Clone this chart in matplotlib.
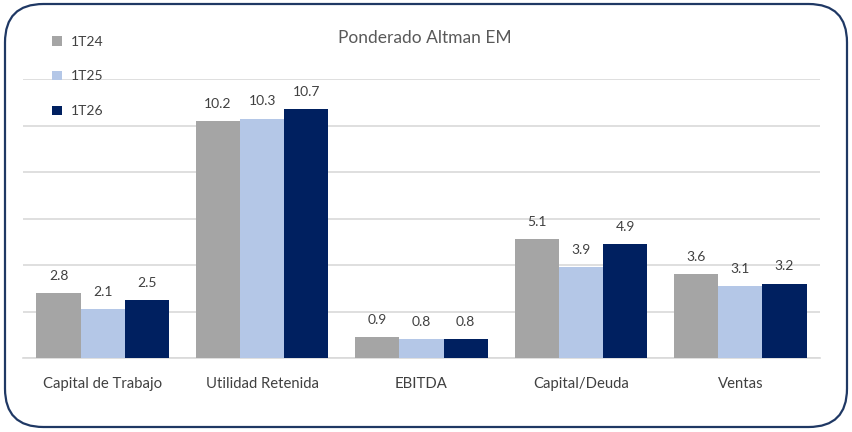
import numpy as np
import matplotlib.pyplot as plt
from matplotlib.patches import FancyBboxPatch

categories = ['Capital de Trabajo', 'Utilidad Retenida', 'EBITDA', 'Capital/Deuda', 'Ventas']
series_names = ['1T24', '1T25', '1T26']
v_1t24 = [2.8, 10.2, 0.9, 5.1, 3.6]
v_1t25 = [2.1, 10.3, 0.8, 3.9, 3.1]
v_1t26 = [2.5, 10.7, 0.8, 4.9, 3.2]
colors = ['#A5A5A5', '#B4C7E7', '#002060']

plt.rcParams['font.family'] = ['Lato', 'DejaVu Sans']

W, H = 853, 432
fig = plt.figure(figsize=(W / 100, H / 100), dpi=100)

# plot area in pixels: left 23, right 820, top 79, bottom 358
ax = fig.add_axes([23 / W, 1 - 358 / H, (820 - 23) / W, (358 - 79) / H])

x = np.arange(len(categories))
bw = 0.277
for i, (vals, c) in enumerate(zip([v_1t24, v_1t25, v_1t26], colors)):
    pos = x + (i - 1) * bw
    ax.bar(pos, vals, width=bw, color=c, label=series_names[i], zorder=3)
    for p, v in zip(pos, vals):
        ax.annotate(f'{v:.1f}', (p, v), xytext=(0, 8), textcoords='offset points',
                    ha='center', va='bottom', fontsize=10, color='#404040',
                    annotation_clip=False)

ax.set_xlim(-0.5, len(categories) - 0.5)
ax.set_ylim(0, 12)
ax.set_yticks(np.arange(0, 13, 2))
ax.yaxis.grid(True, color='#D9D9D9', linewidth=1.2, zorder=0)
ax.tick_params(axis='y', left=False, labelleft=False)
ax.tick_params(axis='x', bottom=False, labelsize=10.7, labelcolor='#404040', pad=10)
ax.set_xticks(x)
ax.set_xticklabels(categories)
for s in ['top', 'right', 'left']:
    ax.spines[s].set_visible(False)
ax.spines['bottom'].set_color('#D9D9D9')
ax.spines['bottom'].set_linewidth(1.2)

fig.text(425 / W, 1 - 38 / H, 'Ponderado Altman EM', ha='center', va='center',
         fontsize=12.5, color='#595959')

leg = fig.legend(loc='upper left', bbox_to_anchor=(40 / W, 1 - 23 / H), frameon=False,
                 fontsize=10, handlelength=0.7, handleheight=0.7, handletextpad=0.6,
                 labelspacing=1.65, labelcolor='#404040')

border = FancyBboxPatch((5 / W, 5 / H), 842 / W, 423 / H,
                        boxstyle='round,pad=0,rounding_size=0.045',
                        transform=fig.transFigure, facecolor='none',
                        edgecolor='#1F3864', linewidth=1.6, mutation_aspect=W / H)
fig.patches.append(border)

fig.savefig('out.png', dpi=100)
